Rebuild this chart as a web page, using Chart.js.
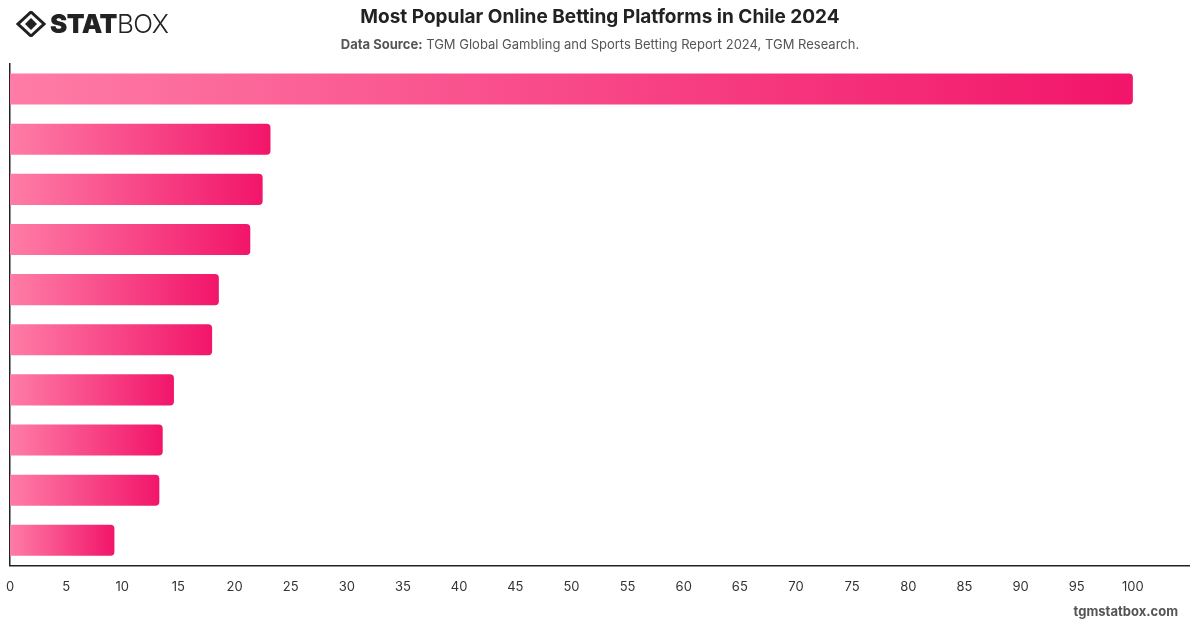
<!DOCTYPE html>
<html lang="en">
<head>
    <meta charset="UTF-8">
    <title>Most Popular Online Betting Platforms in Chile 2024</title>
    <script src="https://cdn.jsdelivr.net/npm/chart.js"></script>
    <style>
        body {
            margin: 0;
            width: 1200px;
            height: 628px;
            background: #ffffff;
            font-family: 'Inter', 'Helvetica', sans-serif;
            position: relative;
            overflow: hidden;
        }
        .logo {
            position: absolute;
            left: 16px;
            top: 8px;
            display: flex;
            align-items: center;
            color: #222;
        }
        .logo .stat { font-weight: 900; font-size: 26px; letter-spacing: -0.5px; margin-left: 4px; }
        .logo .box { font-weight: 300; font-size: 26px; letter-spacing: -0.5px; }
        .title {
            position: absolute;
            top: 5px;
            left: 0;
            width: 1200px;
            text-align: center;
            font-size: 19px;
            font-weight: 700;
            color: #222;
        }
        .subtitle {
            position: absolute;
            top: 36px;
            left: 0;
            width: 1200px;
            text-align: center;
            font-size: 13px;
            color: #555;
        }
        .subtitle b { font-weight: 700; }
        .footer {
            position: absolute;
            right: 22px;
            top: 603px;
            font-size: 13px;
            font-weight: 700;
            color: #555;
        }
        .chart-box {
            position: absolute;
            left: 0;
            top: 0;
            width: 1200px;
            height: 628px;
        }
    </style>
</head>
<body>
    <div class="chart-box"><canvas id="bettingChart" width="1200" height="628"></canvas></div>

    <div class="logo">
        <svg width="30" height="26" viewBox="0 0 30 26">
            <polygon points="15,1 28,13 15,25 2,13" fill="none" stroke="#222" stroke-width="3"/>
            <polygon points="15,7 21,13 15,19 9,13" fill="#222"/>
        </svg>
        <span class="stat">STAT</span><span class="box">BOX</span>
    </div>
    <div class="title">Most Popular Online Betting Platforms in Chile 2024</div>
    <div class="subtitle"><b>Data Source:</b> TGM Global Gambling and Sports Betting Report 2024, TGM Research.</div>
    <div class="footer">tgmstatbox.com</div>

    <script>
        // platform names are not printed on the reference, so ranks stand in
        const platforms = ['#1', '#2', '#3', '#4', '#5', '#6', '#7', '#8', '#9', '#10'];
        const popularity = [100, 23.2, 22.5, 21.4, 18.6, 18.0, 14.6, 13.6, 13.3, 9.3];
        const axisMax = 105;

        // each bar fades from light pink at zero to deep pink at its end
        function barGradient(context) {
            const chart = context.chart;
            const xScale = chart.scales.x;
            if (!chart.chartArea || !xScale) return '#f5176a';
            const start = xScale.getPixelForValue(0);
            const end = xScale.getPixelForValue(popularity[context.dataIndex]);
            if (!isFinite(start) || !isFinite(end)) return '#f5176a';
            const g = chart.ctx.createLinearGradient(start, 0, end, 0);
            g.addColorStop(0, '#fe7ca6');
            g.addColorStop(1, '#f2156a');
            return g;
        }

        new Chart(document.getElementById('bettingChart'), {
            type: 'bar',
            data: {
                labels: platforms,
                datasets: [{
                    data: popularity,
                    backgroundColor: barGradient,
                    borderRadius: 4,
                    borderSkipped: 'start',
                    barPercentage: 0.62,
                    categoryPercentage: 1
                }]
            },
            options: {
                indexAxis: 'y',
                responsive: false,
                animation: false,
                layout: { padding: { top: 64, left: 10, right: 11, bottom: 19 } },
                plugins: { legend: { display: false }, tooltip: { enabled: false } },
                scales: {
                    x: {
                        min: 0,
                        max: axisMax,
                        grid: { display: false, drawTicks: false },
                        border: { display: true, color: '#222', width: 1.5 },
                        ticks: {
                            stepSize: 5,
                            padding: 14,
                            color: '#333',
                            font: { family: 'Inter', size: 13 },
                            callback: v => (v <= 100 ? v : '')
                        },
                        afterFit: scale => { scale.paddingLeft = 0; scale.paddingRight = 0; }
                    },
                    y: {
                        grid: { display: false, drawTicks: false },
                        border: { display: true, color: '#222', width: 1.5 },
                        ticks: { display: false },
                        afterFit: scale => { scale.width = 0; }
                    }
                }
            }
        });
    </script>
</body>
</html>
